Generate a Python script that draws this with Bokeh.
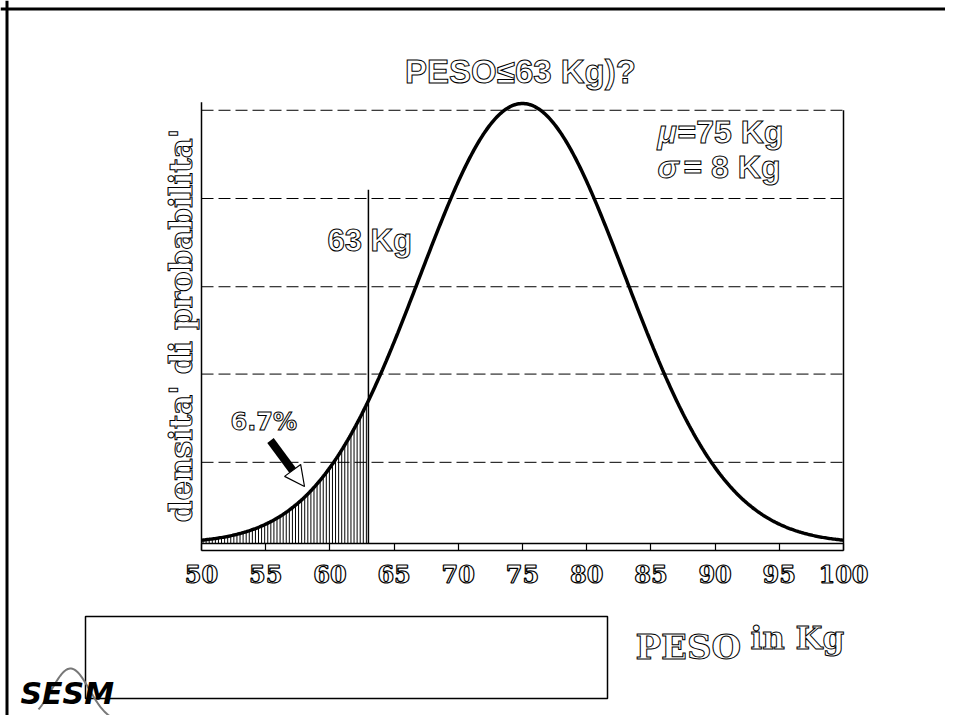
import numpy as np
from bokeh.plotting import figure
from bokeh.models import Range1d, LinearAxis, FixedTicker, Label, Span, Arrow, NormalHead
from bokeh.embed import file_html
from bokeh.resources import INLINE

# ---------------- data ----------------
mu = 75.0
sigma = 8.0
x_min, x_max = 50, 100
x_ticks = [50, 55, 60, 65, 70, 75, 80, 85, 90, 95, 100]
cut_value = 63
cut_marker_top = 0.0401
grid_levels = [0.0092, 0.0192, 0.0291, 0.0391, 0.0491]
frame_top = 0.0500
title_text = "PESO\u226463 Kg)?"
mu_text = "=75 Kg"
sigma_text = "= 8 Kg"
cut_text = "63 Kg"
area_text = "6.7%"
ylabel_text = "densita' di probabilita'"
xlabel_main = "PESO"
xlabel_unit = "in Kg"
logo_text = "SESM"


def pdf(x):
    return np.exp(-0.5 * ((x - mu) / sigma) ** 2) / (sigma * np.sqrt(2 * np.pi))


# ---------------- layout (picture pixels) ----------------
PAGE = 0
W, H = 945, 715
X50_PX, X100_PX = 201, 843
BASE_PX, PEAK_PX = 543, 103
PXU = (X100_PX - X50_PX) / (x_max - x_min)
peak = pdf(mu)
PYU = (BASE_PX - PEAK_PX) / peak


def px2x(px):
    return x_min + (px - X50_PX) / PXU


def py2y(py):
    return (BASE_PX - py) / PYU


bar_h = 7 / PYU

p = figure(width=W, height=H, output_backend="svg", toolbar_location=None,
           x_range=Range1d(px2x(PAGE), px2x(PAGE + W)),
           y_range=Range1d(py2y(PAGE + H), py2y(PAGE)),
           x_axis_location=None, y_axis_location=None,
           min_border=0, outline_line_color=None,
           background_fill_color="white", border_fill_color="white")
p.xgrid.visible = False
p.ygrid.visible = False

# page border (left & top)
p.add_layout(Span(location=px2x(6.5), dimension="height", line_color="black", line_width=3))
p.add_layout(Span(location=py2y(8.5), dimension="width", line_color="black", line_width=3))

# x axis (bar under the curve)
xaxis = LinearAxis(fixed_location=-bar_h, bounds=(x_min, x_max),
                   ticker=FixedTicker(ticks=x_ticks),
                   major_tick_in=7, major_tick_out=0, minor_tick_line_color=None,
                   axis_line_width=1.5, major_tick_line_width=1.2,
                   major_label_text_font="DejaVu Serif", major_label_text_font_size="24px",
                   major_label_text_font_style="bold",
                   major_label_text_color="white", major_label_text_outline_color="black",
                   major_label_standoff=14)
p.add_layout(xaxis, "below")
p.segment(x0=[x_min], y0=[0], x1=[x_max], y1=[0], line_color="black", line_width=1.5)

# frame verticals
p.segment(x0=[x_min, x_max], y0=[-bar_h, -bar_h], x1=[x_min, x_max],
          y1=[frame_top, grid_levels[-1]], line_color="black", line_width=1.5)

# dashed horizontal grid
p.segment(x0=[x_min] * len(grid_levels), y0=grid_levels,
          x1=[x_max] * len(grid_levels), y1=grid_levels,
          line_color="black", line_width=1, line_dash="12 5")

# hatched tail area
hx = np.arange(x_min + 0.12, cut_value, 0.24)
p.segment(x0=hx, y0=np.zeros_like(hx), x1=hx, y1=pdf(hx), line_color="black", line_width=1)

# cut marker
p.segment(x0=[cut_value], y0=[0], x1=[cut_value], y1=[cut_marker_top],
          line_color="black", line_width=1.5)

# curve
cx = np.linspace(x_min, x_max, 501)
p.line(cx, pdf(cx), line_color="black", line_width=3.5)


def label(text, px, py, size, font="Liberation Sans", align="left", baseline="middle",
          style="bold", angle=0.0, color="white", outline="black"):
    p.add_layout(Label(x=px2x(px), y=py2y(py), text=text, text_font=font,
                       text_font_size=f"{size}px", text_align=align,
                       text_baseline=baseline, text_font_style=style, angle=angle,
                       text_color=color, text_outline_color=outline))


label(title_text, 520, 71, 33, align="center")
label("\u03bc", 657, 131, 32, style="bold italic")
label(mu_text, 677, 131, 32)
label("\u03c3", 657, 166, 32, style="bold italic")
label(sigma_text, 683, 166, 32)
label(cut_text, 327, 240, 31)
label(area_text, 230, 421, 24, font="DejaVu Sans")
label(ylabel_text, 180, 325, 31, font="DejaVu Serif", align="center", angle=np.pi / 2)
label(xlabel_main, 635, 646, 34, font="DejaVu Serif")
label(xlabel_unit, 750, 637, 31, font="DejaVu Serif")

# arrow pointing to area
p.add_layout(Arrow(end=NormalHead(size=20, fill_color="white", line_color="black", line_width=1.2),
                   x_start=px2x(270), y_start=py2y(440), x_end=px2x(304), y_end=py2y(486),
                   line_width=8, line_color="black"))

# bottom empty box
p.quad(left=[px2x(85)], right=[px2x(607)], top=[py2y(616)], bottom=[py2y(698)],
       fill_color=None, line_color="black", line_width=1.5)

# logo
lx = np.linspace(38, 124, 80)
ly = 722 - 54 * np.exp(-0.5 * ((lx - 70) / 19) ** 2)
p.line(px2x(lx), py2y(ly), line_color="#777777", line_width=2)
label(logo_text, 20, 693, 30, font="DejaVu Sans", style="bold italic", color="black", outline=None)

open("out.html", "w").write(file_html(p, INLINE))
